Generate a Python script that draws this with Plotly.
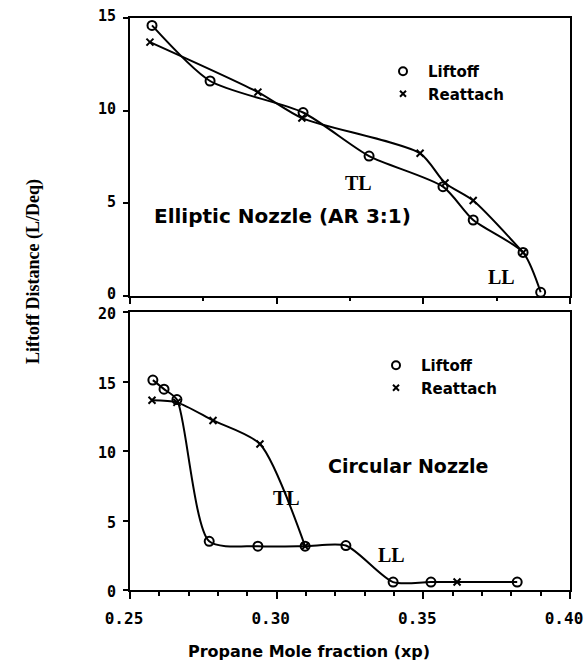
import plotly.graph_objects as go

# ---- data: Elliptic nozzle (AR 3:1), top panel
ell_lift_x = [0.2575, 0.2773, 0.3090, 0.3315, 0.3567, 0.3670, 0.3840, 0.3900]
ell_lift_y = [14.6, 11.6, 9.9, 7.55, 5.9, 4.1, 2.35, 0.2]
ell_reat_x = [0.2568, 0.2936, 0.3086, 0.3489, 0.3574, 0.3670, 0.3840]
ell_reat_y = [13.7, 11.0, 9.6, 7.7, 6.1, 5.15, 2.35]

# ---- data: Circular nozzle, bottom panel
cir_lift_x = [0.2578, 0.2616, 0.2660, 0.2770, 0.2936, 0.3097, 0.3236, 0.3397, 0.3526, 0.3820]
cir_lift_y = [15.1, 14.45, 13.7, 3.5, 3.15, 3.15, 3.2, 0.57, 0.57, 0.57]
cir_reat_x = [0.2575, 0.2660, 0.2783, 0.2943, 0.3097, None, 0.3615]
cir_reat_y = [13.65, 13.5, 12.2, 10.5, 3.15, None, 0.57]

x_ticks = [0.25, 0.30, 0.35, 0.40]
x_ticklabels = ["0.25", "0.30", "0.35", "0.40"]
top_yticks = [0, 5, 10, 15]
bot_yticks = [0, 5, 10, 15, 20]

SANS = "DejaVu Sans"
SERIF = "Liberation Serif"
MONO = "DejaVu Sans Mono"
BLK = "black"

fig = go.Figure()

def add_series(x, y, xa, ya, symbol, msize):
    fig.add_trace(go.Scatter(
        x=x, y=y, xaxis=xa, yaxis=ya, mode="lines+markers",
        line=dict(color=BLK, width=2, shape="spline", smoothing=0.7),
        marker=dict(symbol=symbol, size=msize, color=BLK,
                    line=dict(color=BLK, width=2)),
        connectgaps=False, showlegend=False, cliponaxis=False))

add_series(ell_lift_x, ell_lift_y, "x", "y", "circle-open", 9)
add_series(ell_reat_x, ell_reat_y, "x", "y", "x-thin", 7)
add_series(cir_lift_x, cir_lift_y, "x2", "y2", "circle-open", 9)
add_series(cir_reat_x, cir_reat_y, "x2", "y2", "x-thin", 7)

# legend-only entries
for name, sym, sz, lg, xa, ya in [
        ("Liftoff", "circle-open", 8, "legend", "x", "y"),
        ("Reattach", "x-thin", 6, "legend", "x", "y"),
        ("Liftoff", "circle-open", 8, "legend2", "x2", "y2"),
        ("Reattach", "x-thin", 6, "legend2", "x2", "y2")]:
    fig.add_trace(go.Scatter(
        x=[None], y=[None], xaxis=xa, yaxis=ya, mode="markers", name=name,
        marker=dict(symbol=sym, size=sz, color=BLK, line=dict(color=BLK, width=2)),
        legend=lg, showlegend=True))

axis_common = dict(showline=True, linecolor=BLK, linewidth=2, mirror=True,
                   showgrid=False, zeroline=False, ticks="outside",
                   tickcolor=BLK, tickwidth=2, automargin=False)
tick_font = dict(family=MONO, size=15, color=BLK, weight="bold")

fig.update_layout(
    width=585, height=662,
    margin=dict(l=130, r=15, t=18, b=72, autoexpand=False),
    paper_bgcolor="white", plot_bgcolor="white",
    xaxis=dict(domain=[0, 1], anchor="y", range=[0.25, 0.40],
               tickvals=x_ticks, showticklabels=False, ticklen=6,
               minor=dict(dtick=0.025, tick0=0.25, ticks="outside", ticklen=3,
                          tickcolor=BLK, tickwidth=2),
               **axis_common),
    yaxis=dict(domain=[294 / 572, 1], anchor="x", range=[0, 15],
               tickvals=top_yticks, ticklen=5, tickfont=tick_font,
               ticklabelstandoff=4, ticklabelshift=-2, **axis_common),
    xaxis2=dict(domain=[0, 1], anchor="y2", range=[0.25, 0.40],
                tickvals=x_ticks, ticktext=x_ticklabels, ticklen=7,
                tickfont=dict(family=MONO, size=16, color=BLK, weight="bold"),
                ticklabelstandoff=6, ticklabelshift=-6,
                minor=dict(dtick=0.01, tick0=0.25, ticks="outside", ticklen=4,
                           tickcolor=BLK, tickwidth=1.5),
                **axis_common),
    yaxis2=dict(domain=[0, 278 / 572], anchor="x2", range=[0, 20],
                tickvals=bot_yticks, ticklen=5, tickfont=tick_font,
                ticklabelstandoff=4, ticklabelshift=2, **axis_common),
    legend=dict(x=(378 - 130) / 440, y=(590 - 55) / 572, xanchor="left", yanchor="top",
                bgcolor="rgba(0,0,0,0)", font=dict(family=SANS, size=15, color=BLK, weight="bold"),
                itemwidth=40, tracegroupgap=0),
    legend2=dict(x=(371 - 130) / 440, y=(590 - 349) / 572, xanchor="left", yanchor="top",
                 bgcolor="rgba(0,0,0,0)", font=dict(family=SANS, size=15, color=BLK, weight="bold"),
                 itemwidth=40, tracegroupgap=0),
)

def ann(text, x, y, xref, yref, family, size, **kw):
    fig.add_annotation(text=text, x=x, y=y, xref=xref, yref=yref, showarrow=False,
                       font=dict(family=family, size=size, color=BLK, weight="bold"), **kw)

ann("Elliptic Nozzle (AR 3:1)", 0.302, 4.3, "x", "y", SANS, 20)
ann("TL", 0.328, 6.1, "x", "y", SERIF, 20)
ann("LL", 0.3768, 1.0, "x", "y", SERIF, 20)
ann("Circular Nozzle", 0.3167, 8.9, "x2", "y2", SANS, 19, xanchor="left")
ann("TL", 0.3034, 6.6, "x2", "y2", SERIF, 20)
ann("LL", 0.3393, 2.5, "x2", "y2", SERIF, 20)
ann("Liftoff Distance (L/Deq)", (33 - 130) / 440, (590 - 272) / 572, "paper", "paper",
    SERIF, 18, textangle=-90, xanchor="center", yanchor="middle")
ann("Propane Mole fraction (xp)", (309 - 130) / 440, (590 - 651) / 572, "paper", "paper",
    SANS, 16, xanchor="center", yanchor="middle")

fig.write_html("out.html")
